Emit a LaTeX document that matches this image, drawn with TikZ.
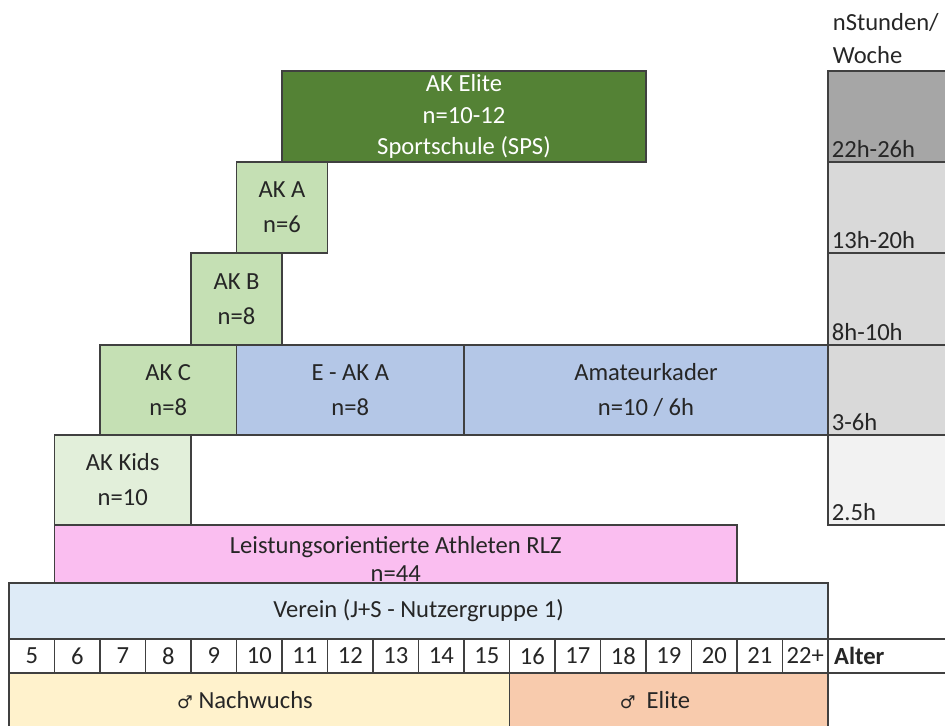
\documentclass[tikz,border=0pt]{standalone}
\usepackage{fontspec}
\setmainfont{Carlito}
\newfontfamily\symfont{DejaVu Sans}
\usepackage{xcolor}
\usetikzlibrary{calc}

\definecolor{elitegreen}{RGB}{84,130,53}
\definecolor{akgreen}{RGB}{197,224,180}
\definecolor{kidsgreen}{RGB}{226,239,218}
\definecolor{akblue}{RGB}{180,199,231}
\definecolor{rlzpink}{RGB}{250,190,240}
\definecolor{vereinblue}{RGB}{222,235,247}
\definecolor{nachyellow}{RGB}{255,242,204}
\definecolor{eliteorange}{RGB}{248,203,173}
\definecolor{hdark}{RGB}{166,166,166}
\definecolor{hmid}{RGB}{217,217,217}
\definecolor{hlight}{RGB}{242,242,242}

\tikzset{
	cell/.style={draw=black!75, line width=0.8pt},
	lbl/.style={align=center, text=black!85, inner sep=1pt, font=\fontsize{14}{19.9}\selectfont},
	hlabel/.style={anchor=south west, text=black!85, inner sep=2pt, font=\fontsize{14}{16}\selectfont},
}
\newcommand{\male}{{\symfont\fontsize{10}{10}\selectfont ♂}}

\begin{document}
\begin{tikzpicture}
	
	\useasboundingbox (0,0) rectangle (18.9,14.52);
	
	% Stunden pro Woche
	\node[hlabel, anchor=west] (hd1) at (16.58,14.08) {nStunden/};
	\node[hlabel, anchor=west] (hd2) at (16.58,13.42) {Woche};
	
	\filldraw[cell, fill=hdark] (16.56,11.28) coordinate (h1) rectangle (19.2,13.10);
	\filldraw[cell, fill=hmid] (16.56,9.46) coordinate (h2) rectangle (19.2,11.28);
	\filldraw[cell, fill=hmid] (16.56,7.62) coordinate (h3) rectangle (19.2,9.46);
	\filldraw[cell, fill=hmid] (16.56,5.82) coordinate (h4) rectangle (19.2,7.62);
	\filldraw[cell, fill=hlight] (16.56,4.02) coordinate (h5) rectangle (19.2,5.82);
	\node[hlabel] (h1t) at (h1) {22h-26h};
	\node[hlabel] (h2t) at (h2) {13h-20h};
	\node[hlabel] (h3t) at (h3) {8h-10h};
	\node[hlabel] (h4t) at (h4) {3-6h};
	\node[hlabel] (h5t) at (h5) {2.5h};
	
	% Kader
	\filldraw[cell, fill=elitegreen] (5.64,11.28) rectangle node[lbl, text=white, font=\fontsize{14}{17.9}\selectfont] (elite) {AK Elite\\n=10-12\\Sportschule (SPS)} (12.92,13.10);
	\filldraw[cell, fill=akgreen] (4.73,9.46) rectangle node[lbl] (aka) {AK A\\n=6} (6.55,11.28);
	\filldraw[cell, fill=akgreen] (3.82,7.62) rectangle node[lbl] (akb) {AK B\\n=8} (5.64,9.46);
	\filldraw[cell, fill=akgreen] (2.00,5.82) rectangle node[lbl] (akc) {AK C\\n=8} (4.73,7.62);
	\filldraw[cell, fill=akblue] (4.73,5.82) rectangle node[lbl] (eaka) {E - AK A\\n=8} (9.28,7.62);
	\filldraw[cell, fill=akblue] (9.28,5.82) rectangle node[lbl] (amateur) {Amateurkader\\n=10 / 6h} (16.56,7.62);
	\filldraw[cell, fill=kidsgreen] (1.09,4.02) rectangle node[lbl] (kids) {AK Kids\\n=10} (3.82,5.82);
	
	\filldraw[cell, fill=rlzpink] (1.09,2.86) rectangle node[lbl, yshift=-0.1cm, font=\fontsize{14}{15.9}\selectfont] (rlz) {Leistungsorientierte Athleten RLZ\\n=44} (14.74,4.02);
	\filldraw[cell, fill=vereinblue] (0.18,1.74) rectangle node[lbl] (verein) {Verein (J+S - Nutzergruppe 1)} (16.56,2.86);
	
	% Alter
	\foreach \a [count=\i from 0] in {5,6,7,8,9,10,11,12,13,14,15,16,17,18,19,20,21,22+}
		\filldraw[cell, fill=white] ({0.18+0.91*\i},1.06) rectangle node[lbl] (age\i) {\a} ({1.09+0.91*\i},1.74);
	\draw[cell] (16.56,1.74) -- (19.2,1.74);
	\draw[cell] (16.56,1.06) -- (19.2,1.06);
	\node[lbl, anchor=west] (alter) at (16.64,1.40) {\textbf{Alter}};
	
	\filldraw[cell, fill=nachyellow] (0.18,-0.3) rectangle (10.19,1.06);
	\filldraw[cell, fill=eliteorange] (10.19,-0.3) rectangle (16.56,1.06);
	\node[lbl] (nach) at (4.9,0.52) {\male\ Nachwuchs};
	\node[lbl] (elitem) at (13.1,0.52) {\male\ \ Elite};
	
\end{tikzpicture}
\end{document}
